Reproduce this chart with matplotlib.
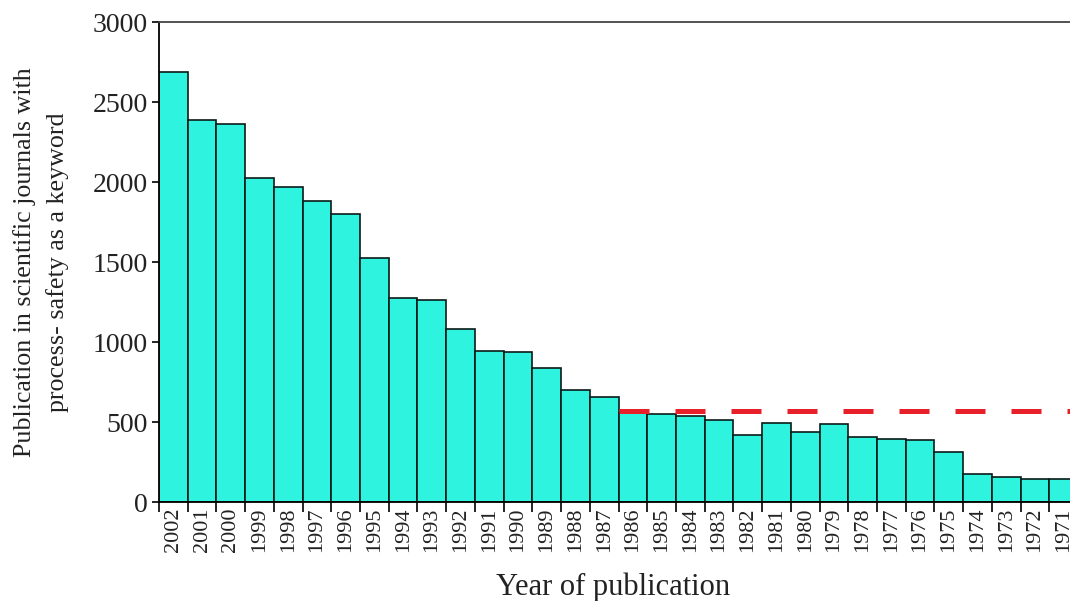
"""Publications with process-safety as keyword, per year (bar chart)."""
import matplotlib

matplotlib.use("Agg")
import matplotlib.pyplot as plt
import numpy as np

# --------------------------------------------------------------------------- #
# Data
# --------------------------------------------------------------------------- #
years = list(range(2002, 1970, -1))
counts = [2690, 2390, 2365, 2025, 1970, 1880, 1800, 1525, 1275, 1260,
          1080, 945, 935, 840, 703, 655, 555, 550, 535, 510,
          420, 495, 435, 490, 405, 392, 388, 313, 173, 158,
          145, 145]
ref_level = 570          # dashed reference line
ref_start_year = 1986    # dashed line starts at this bar
y_ticks = [0, 500, 1000, 1500, 2000, 2500, 3000]

plt.rcParams["font.family"] = ["Liberation Serif", "DejaVu Serif"]

W, H = 1070, 601
fig = plt.figure(figsize=(W / 100, H / 100), dpi=100)
# axes run a bit past the right edge: the last bar is cut off in the source
ax = fig.add_axes([159 / W, 1 - 502 / H, (1078 - 159) / W, (502 - 22) / H])

x = np.arange(len(years))
ax.bar(x, counts, width=1.0, align="edge", color="#2ef3df",
       edgecolor="#0b1a18", linewidth=1.2, zorder=2)

start = years.index(ref_start_year)
ax.plot([start, len(years) + 1], [ref_level, ref_level], color="#e8202a",
        lw=3.6, dashes=(6, 5.2), solid_capstyle="butt", zorder=3)

ax.set_xlim(0, len(years))
ax.set_ylim(0, 3000)

# ticks at bar edges, labels centred on bars
ax.set_xticks(np.arange(len(years) + 1))
ax.set_xticklabels([])
ax.set_xticks(x + 0.5, minor=True)
ax.set_xticklabels([str(y) for y in years], minor=True, rotation=90,
                   fontsize=16, color="#222222")
ax.tick_params(axis="x", which="major", direction="out", length=7, width=1.2)
ax.tick_params(axis="x", which="minor", length=0, pad=4)

ax.set_yticks(y_ticks)
ax.set_yticklabels([str(v) for v in y_ticks], fontsize=20, color="#222222")
ax.tick_params(axis="y", direction="out", length=5, width=1.2, pad=3)

for side in ("left", "bottom", "top"):
    ax.spines[side].set_linewidth(1.3)
ax.spines["top"].set_color("#444444")
ax.spines["right"].set_visible(False)

fig.text(613 / W, 1 - 595 / H, "Year of publication", ha="center",
         va="baseline", fontsize=22, color="#222222")
fig.text(41 / W, 1 - 262 / H,
         "Publication in scientific journals with\nprocess- safety as a keyword",
         rotation=90, ha="center", va="center", multialignment="center",
         fontsize=18.7, color="#222222", linespacing=1.55)

fig.savefig("out.png", dpi=100)
plt.close(fig)
